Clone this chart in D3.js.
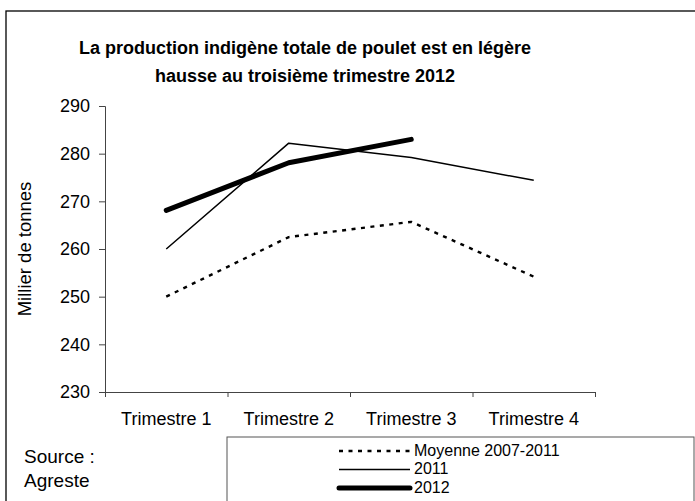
<!DOCTYPE html>
<html>
<head>
<meta charset="utf-8">
<script src="https://cdn.jsdelivr.net/npm/d3@7"></script>
<style>
  body { margin: 0; background: #fff; }
  svg text { font-family: "Liberation Sans", Arial, sans-serif; fill: #000; }
</style>
</head>
<body>
<div id="chart"></div>
<script>
// chart size (same as the window)
const width = 695;
const height = 501;
const margin = {left: 105, right: 100, top: 106, bottom: 109};

// data
const quarters = ["Trimestre 1", "Trimestre 2", "Trimestre 3", "Trimestre 4"];
const moyenne = [250, 262.5, 265.7, 254.2];
const y2011 = [260, 282.2, 279.2, 274.4];
const y2012 = [268.1, 278.1, 283];
const yTicks = [230, 240, 250, 260, 270, 280, 290];

const series = [
  {name: "Moyenne 2007-2011", values: moyenne, width: 2.4, dash: "4,5.5", cap: "butt"},
  {name: "2011", values: y2011, width: 1.5, dash: null, cap: "butt"},
  {name: "2012", values: y2012, width: 5, dash: null, cap: "round"}
];

const svg = d3.select("#chart")
  .append("svg")
  .attr("width", width)
  .attr("height", height);

// outer frame (runs past the right and bottom edges)
svg.append("rect")
  .attr("x", 6).attr("y", 11)
  .attr("width", width + 20).attr("height", height + 20)
  .attr("fill", "none")
  .attr("stroke", "#000")
  .attr("stroke-width", 1.3);

// title
svg.append("text")
  .attr("x", 305).attr("y", 54)
  .attr("text-anchor", "middle")
  .attr("font-size", "18px")
  .attr("font-weight", "bold")
  .text("La production indigène totale de poulet est en légère");
svg.append("text")
  .attr("x", 305).attr("y", 82)
  .attr("text-anchor", "middle")
  .attr("font-size", "18px")
  .attr("font-weight", "bold")
  .text("hausse au troisième trimestre 2012");

// scales
let xScale = d3.scaleBand()
  .domain(quarters)
  .range([margin.left, width - margin.right]);

let xEdges = d3.scaleLinear()
  .domain([0, quarters.length])
  .range([margin.left, width - margin.right]);

let yScale = d3.scaleLinear()
  .domain([230, 290])
  .range([height - margin.bottom, margin.top]);

// y axis
const yAxis = svg.append("g")
  .attr("transform", `translate(${margin.left},0)`)
  .call(d3.axisLeft(yScale).tickValues(yTicks).tickSize(6).tickPadding(9));
yAxis.selectAll("text").attr("font-size", "18px").attr("font-family", null);
yAxis.selectAll("line, path").attr("stroke", "#444");

// x axis: tick marks at the band edges
const xAxis = svg.append("g")
  .attr("transform", `translate(0,${height - margin.bottom})`)
  .call(d3.axisBottom(xEdges).ticks(quarters.length).tickSize(5).tickFormat(""));
xAxis.selectAll("line, path").attr("stroke", "#444");

// x labels centred in each band
const xLabels = svg.append("g")
  .attr("transform", `translate(0,${height - margin.bottom})`)
  .call(d3.axisBottom(xScale).tickSize(0).tickPadding(20));
xLabels.select(".domain").remove();
xLabels.selectAll("text").attr("font-size", "18px").attr("font-family", null);

// y axis title
svg.append("text")
  .attr("transform", `translate(24,249) rotate(-90)`)
  .attr("text-anchor", "middle")
  .attr("dominant-baseline", "central")
  .attr("font-size", "18.5px")
  .text("Millier de tonnes");

// lines
const line = d3.line()
  .x((d, i) => xScale(quarters[i]) + xScale.bandwidth() / 2)
  .y((d) => yScale(d));

svg.selectAll(".series")
  .data(series)
  .enter()
  .append("path")
    .attr("class", "series")
    .attr("d", (d) => line(d.values))
    .attr("fill", "none")
    .attr("stroke", "#000")
    .attr("stroke-width", (d) => d.width)
    .attr("stroke-dasharray", (d) => d.dash)
    .attr("stroke-linecap", (d) => d.cap)
    .attr("stroke-linejoin", "round");

// source note
svg.append("text").attr("x", 24).attr("y", 463).attr("font-size", "19px").text("Source :");
svg.append("text").attr("x", 24).attr("y", 487).attr("font-size", "19px").text("Agreste");

// legend box (runs past the right and bottom edges)
svg.append("rect")
  .attr("x", 227).attr("y", 437)
  .attr("width", 467).attr("height", 100)
  .attr("fill", "none")
  .attr("stroke", "#555")
  .attr("stroke-width", 1);

const legend = svg.selectAll(".legend")
  .data(series)
  .enter()
  .append("g")
    .attr("class", "legend")
    .attr("transform", (d, i) => `translate(0,${451 + i * 18.5})`);

legend.append("line")
  .attr("x1", 339).attr("x2", 410)
  .attr("stroke", "#000")
  .attr("stroke-width", (d) => d.width)
  .attr("stroke-dasharray", (d) => d.dash)
  .attr("stroke-linecap", (d) => d.cap);

legend.append("text")
  .attr("x", 414)
  .attr("y", -1)
  .attr("dominant-baseline", "central")
  .attr("font-size", "16px")
  .text((d) => d.name);
</script>
</body>
</html>
